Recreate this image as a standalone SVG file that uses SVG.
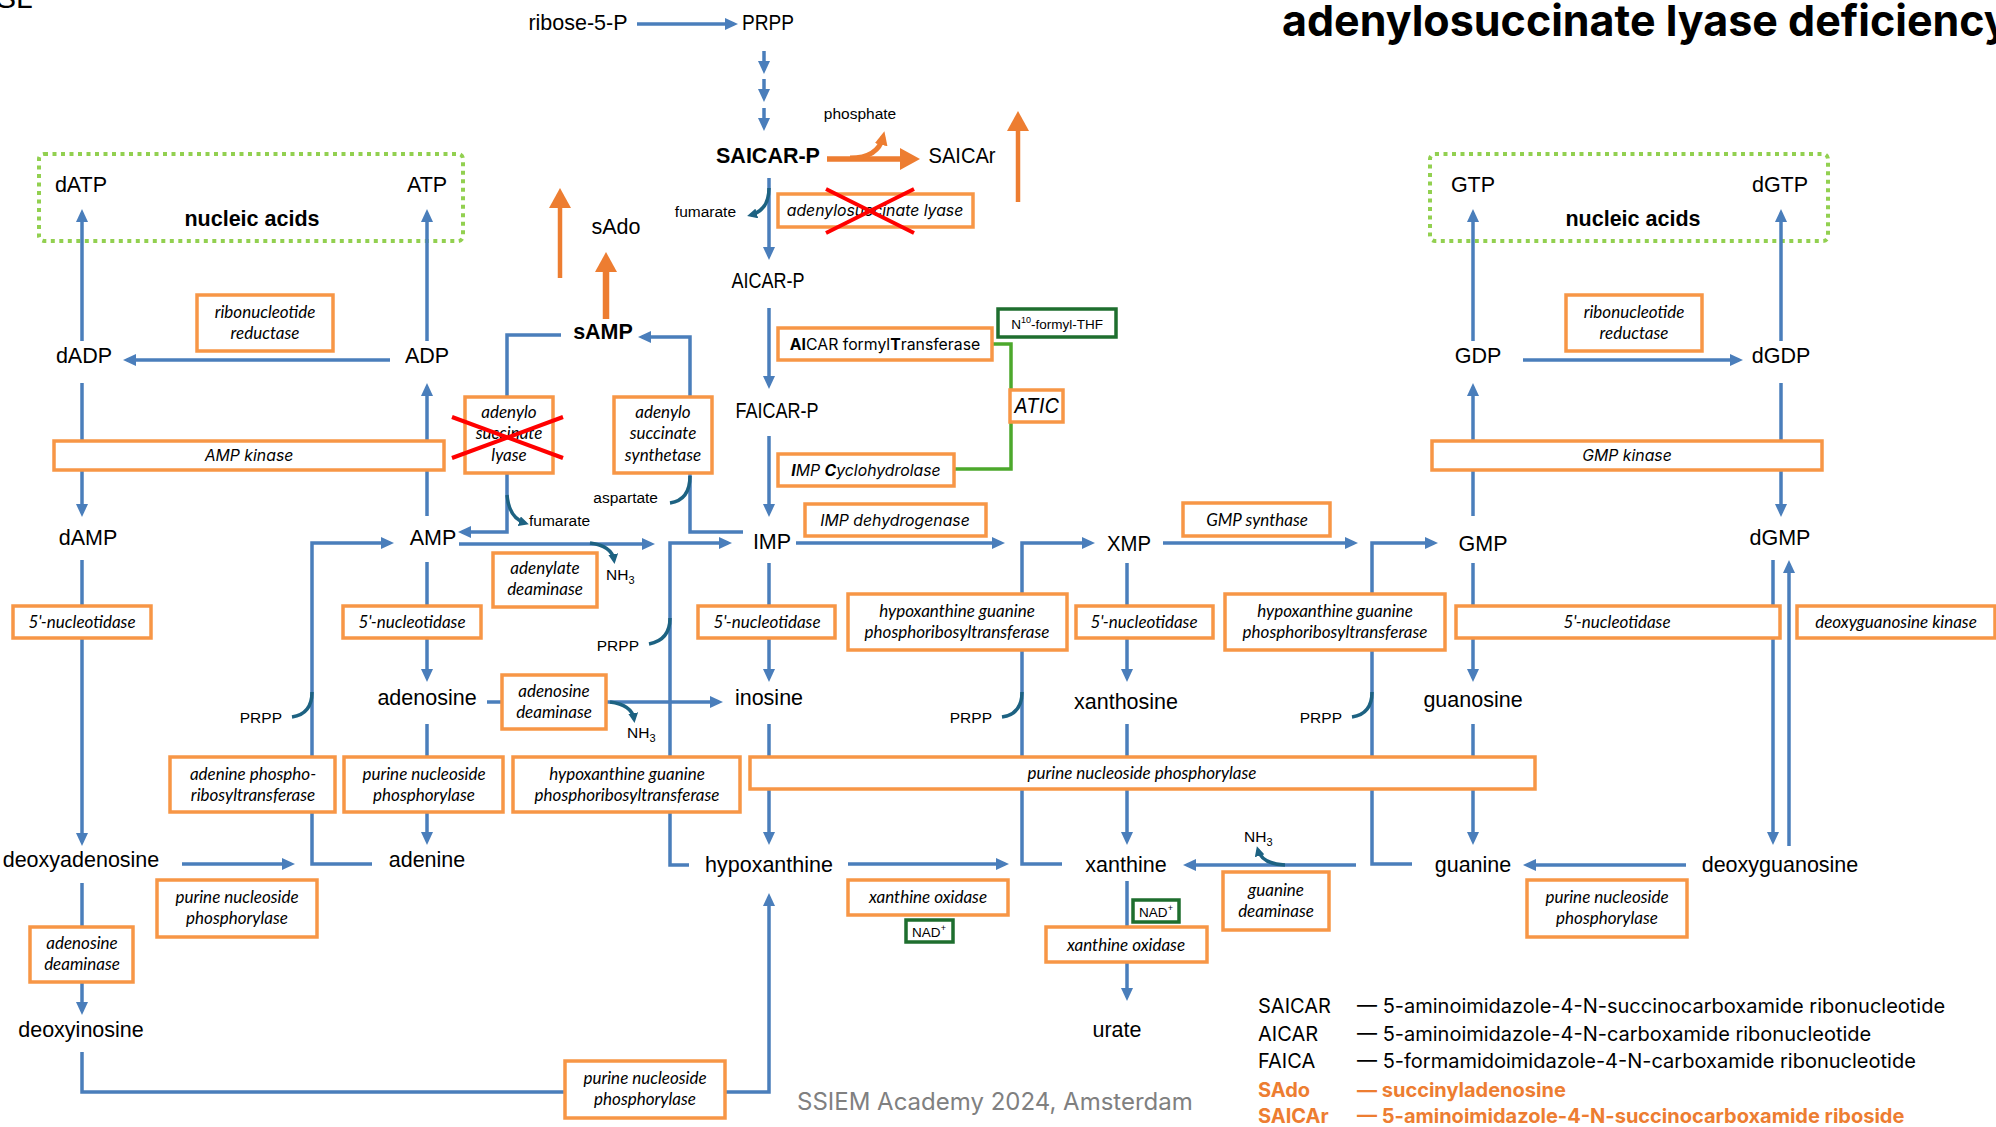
<svg xmlns="http://www.w3.org/2000/svg" width="1996" height="1127" viewBox="0 0 1996 1127">
<style>
.c{fill:none;stroke:#4A7EBB;stroke-width:3.5;marker-end:url(#ab)}
.tl{fill:none;stroke:#1D6282;stroke-width:3.5}
.ta{fill:none;stroke:#1D6282;stroke-width:3.5;marker-end:url(#at)}
.oa{fill:none;stroke:#ED7D31;marker-end:url(#ao)}
.bx{fill:#fff;stroke:#F79646;stroke-width:3.5}
.gb{fill:#fff;stroke:#1E6E2E;stroke-width:3.5}
.lb{font-family:"Liberation Sans",Arial,sans-serif;font-size:21.5px;text-anchor:middle;fill:#000}
.bd{font-weight:bold}
.sm{font-family:"Liberation Sans",Arial,sans-serif;font-size:15.5px;fill:#000}
.ez{font-family:Lato,"Liberation Sans",sans-serif;font-style:italic;font-size:17px;text-anchor:middle;fill:#000}
.ei{font-family:Inter,"Liberation Sans",sans-serif;font-style:italic;font-size:15.8px;text-anchor:middle;fill:#000}
.up{font-style:normal}
.big{font-size:20px}
.gt{font-family:"Liberation Sans",Arial,sans-serif;font-size:13.5px;text-anchor:middle;fill:#000}
.lg{font-family:Inter,"Liberation Sans",sans-serif;font-size:20px;fill:#000}
.lo{fill:#ED7D31;font-weight:bold}
.x{stroke:#FF0000;stroke-width:4}
</style>
<defs>
<marker id="ab" viewBox="0 0 13 12" refX="9" refY="6" markerWidth="13" markerHeight="12" markerUnits="userSpaceOnUse" orient="auto"><path d="M0,0 L13,6 L0,12 z" fill="#4A7EBB"/></marker>
<marker id="at" viewBox="0 0 10 10" refX="6" refY="5" markerWidth="10" markerHeight="10" markerUnits="userSpaceOnUse" orient="auto"><path d="M0,0 L10,5 L0,10 z" fill="#1D6282"/></marker>
<marker id="ao" viewBox="0 0 20 22" refX="13" refY="11" markerWidth="20" markerHeight="22" markerUnits="userSpaceOnUse" orient="auto"><path d="M0,0 L20,11 L0,22 z" fill="#ED7D31"/></marker>
<marker id="ao2" viewBox="0 0 14 13" refX="8" refY="6.5" markerWidth="14" markerHeight="13" markerUnits="userSpaceOnUse" orient="auto"><path d="M0,0 L14,6.5 L0,13 z" fill="#ED7D31"/></marker>
</defs>

<text x="-4" y="8" font-family="Liberation Sans, Arial, sans-serif" font-size="30">SL</text>
<text x="1282" y="36" font-family="Inter, 'Liberation Sans', sans-serif" font-size="43" font-weight="700">adenylosuccinate lyase deficiency</text>

<g id="pools">
<rect x="39" y="154" width="424" height="87" rx="5" fill="none" stroke="#92D050" stroke-width="4" stroke-dasharray="4 4.5"/>
<rect x="1430" y="154" width="398" height="87" rx="5" fill="none" stroke="#92D050" stroke-width="4" stroke-dasharray="4 4.5"/>
</g>

<g id="connectors">
<path class="c" d="M637,24 H734"/>
<path class="c" d="M764,51 V70"/>
<path class="c" d="M764,79 V98"/>
<path class="c" d="M764,108 V127"/>
<path class="c" d="M769,178 V256"/>
<path class="c" d="M769,308 V385"/>
<path class="c" d="M769,436 V513"/>
<path class="c" d="M796,543 H1001"/>
<path class="c" d="M743,532 H690 V337 H642"/>
<path class="c" d="M561,335 H507 V532 H462"/>
<path class="c" d="M459,544 H651"/>
<path class="c" d="M427,516 V387"/>
<path class="c" d="M427,341 V213"/>
<path class="c" d="M390,360 H127"/>
<path class="c" d="M82,341 V213"/>
<path class="c" d="M82,383 V513"/>
<path class="c" d="M82,560 V842"/>
<path class="c" d="M82,883 V1011"/>
<path class="c" d="M82,1052 V1092 H769 V897"/>
<path class="c" d="M427,562 V678"/>
<path class="c" d="M427,724 V841"/>
<path class="c" d="M372,864 H312 V543 H390"/>
<path class="c" d="M182,864 H291"/>
<path class="c" d="M487,702 H719"/>
<path class="c" d="M769,563 V678"/>
<path class="c" d="M769,724 V841"/>
<path class="c" d="M689,865 H670 V543 H728"/>
<path class="c" d="M848,864 H1005"/>
<path class="c" d="M1062,864 H1022 V543 H1091"/>
<path class="c" d="M1127,563 V678"/>
<path class="c" d="M1127,724 V841"/>
<path class="c" d="M1127,881 V997"/>
<path class="c" d="M1163,543 H1354"/>
<path class="c" d="M1412,864 H1372 V543 H1434"/>
<path class="c" d="M1473,516 V387"/>
<path class="c" d="M1473,341 V213"/>
<path class="c" d="M1523,360 H1739"/>
<path class="c" d="M1781,341 V213"/>
<path class="c" d="M1781,383 V513"/>
<path class="c" d="M1773,560 V841"/>
<path class="c" d="M1789,846 V564"/>
<path class="c" d="M1686,865 H1527"/>
<path class="c" d="M1473,563 V678"/>
<path class="c" d="M1473,724 V841"/>
<path class="c" d="M1356,865 H1187"/>
<path class="ta" d="M769,188 Q769,210 751,215"/>
<path class="ta" d="M507,495 Q509,518 525,523"/>
<path class="ta" d="M590,543 Q612,546 614,560"/>
<path class="ta" d="M610,702 Q632,705 634,719"/>
<path class="ta" d="M1285,865 Q1262,864 1258,850"/>
<path class="tl" d="M670,503 Q690,500 690,476"/>
<path class="tl" d="M649,644 Q670,640 670,618"/>
<path class="tl" d="M292,717 Q312,714 312,692"/>
<path class="tl" d="M1002,717 Q1022,714 1022,692"/>
<path class="tl" d="M1352,717 Q1372,714 1372,692"/>
<path d="M992,344 H1011 V469 H954" fill="none" stroke="#4CA82C" stroke-width="3.5"/>
<path class="oa" stroke-width="5.5" d="M827,159 H913"/>
<path d="M850,158 Q878,158 883,137" fill="none" stroke="#ED7D31" stroke-width="5" marker-end="url(#ao2)"/>
<path class="oa" stroke-width="4.5" d="M560,278 V195"/>
<path class="oa" stroke-width="6.5" d="M606,319 V259"/>
<path class="oa" stroke-width="4.5" d="M1018,202 V118"/>
</g>

<g id="metabolites">
<text class="lb" x="81" y="192">dATP</text>
<text class="lb" x="427" y="192">ATP</text>
<text class="lb bd" x="252" y="226">nucleic acids</text>
<text class="lb" x="1473" y="192">GTP</text>
<text class="lb" x="1780" y="192">dGTP</text>
<text class="lb bd" x="1633" y="226">nucleic acids</text>
<text class="lb" x="84" y="363">dADP</text>
<text class="lb" x="427" y="363">ADP</text>
<text class="lb" x="1478" y="363">GDP</text>
<text class="lb" x="1781" y="363">dGDP</text>
<text class="lb" x="578" y="30">ribose-5-P</text>
<text class="lb" x="768" y="30" textLength="52" lengthAdjust="spacingAndGlyphs">PRPP</text>
<text class="lb bd" x="768" y="163">SAICAR-P</text>
<text class="lb" x="962" y="163" textLength="67" lengthAdjust="spacingAndGlyphs">SAICAr</text>
<text class="lb" x="616" y="234">sAdo</text>
<text class="lb bd" x="603" y="339">sAMP</text>
<text class="lb" x="768" y="288" textLength="73" lengthAdjust="spacingAndGlyphs">AICAR-P</text>
<text class="lb" x="777" y="418" textLength="83" lengthAdjust="spacingAndGlyphs">FAICAR-P</text>
<text class="lb" x="88" y="545">dAMP</text>
<text class="lb" x="433" y="545">AMP</text>
<text class="lb" x="772" y="549">IMP</text>
<text class="lb" x="1129" y="551" textLength="44" lengthAdjust="spacingAndGlyphs">XMP</text>
<text class="lb" x="1483" y="551">GMP</text>
<text class="lb" x="1780" y="545">dGMP</text>
<text class="lb" x="427" y="705">adenosine</text>
<text class="lb" x="769" y="705">inosine</text>
<text class="lb" x="1126" y="709">xanthosine</text>
<text class="lb" x="1473" y="707">guanosine</text>
<text class="lb" x="81" y="867">deoxyadenosine</text>
<text class="lb" x="427" y="867">adenine</text>
<text class="lb" x="769" y="872">hypoxanthine</text>
<text class="lb" x="1126" y="872">xanthine</text>
<text class="lb" x="1473" y="872">guanine</text>
<text class="lb" x="1780" y="872">deoxyguanosine</text>
<text class="lb" x="81" y="1037">deoxyinosine</text>
<text class="lb" x="1117" y="1037">urate</text>
</g>

<g id="cofactors">
<text class="sm" x="860" y="119" text-anchor="middle">phosphate</text>
<text class="sm" x="736" y="217" text-anchor="end">fumarate</text>
<text class="sm" x="529" y="526">fumarate</text>
<text class="sm" x="658" y="503" text-anchor="end">aspartate</text>
<text class="sm" x="639" y="651" text-anchor="end">PRPP</text>
<text class="sm" x="282" y="723" text-anchor="end">PRPP</text>
<text class="sm" x="992" y="723" text-anchor="end">PRPP</text>
<text class="sm" x="1342" y="723" text-anchor="end">PRPP</text>
<text class="sm" x="606" y="580">NH<tspan font-size="11" dy="4">3</tspan></text>
<text class="sm" x="627" y="738">NH<tspan font-size="11" dy="4">3</tspan></text>
<text class="sm" x="1244" y="842">NH<tspan font-size="11" dy="4">3</tspan></text>
</g>

<g id="n10-formyl-thf"><rect class="gb" x="998" y="309" width="118" height="28"/><text class="gt" x="1057" y="329">N<tspan font-size="9" dy="-6">10</tspan><tspan dy="6">-formyl-THF</tspan></text></g>
<g id="nad-1"><rect class="gb" x="906" y="920" width="47" height="22"/><text class="gt" x="929" y="937">NAD<tspan font-size="9" dy="-6">+</tspan></text></g>
<g id="nad-2"><rect class="gb" x="1133" y="900" width="46" height="22"/><text class="gt" x="1156" y="917">NAD<tspan font-size="9" dy="-6">+</tspan></text></g>

<g id="enz-rnr-a"><rect class="bx" x="197" y="295" width="136" height="56"/><text class="ez" x="265" y="318">ribonucleotide</text><text class="ez" x="265" y="339">reductase</text></g>
<g id="enz-rnr-g"><rect class="bx" x="1566" y="295" width="136" height="56"/><text class="ez" x="1634" y="318">ribonucleotide</text><text class="ez" x="1634" y="339">reductase</text></g>
<g id="enz-adsl-top"><rect class="bx" x="778" y="194" width="195" height="33"/><text class="ei" x="875" y="216">adenylosuccinate lyase</text>
<line class="x" x1="826" y1="189" x2="914" y2="233"/><line class="x" x1="826" y1="233" x2="914" y2="189"/></g>
<g id="enz-aicar-ft"><rect class="bx" x="778" y="328" width="214" height="32"/><text class="ei up" x="885" y="350"><tspan font-weight="bold">AI</tspan>CAR formyl<tspan font-weight="bold">T</tspan>ransferase</text></g>
<g id="enz-atic"><rect class="bx" x="1010" y="390" width="53" height="32"/><text class="ei big" x="1036.5" y="413">ATIC</text></g>
<g id="enz-imp-ch"><rect class="bx" x="778" y="454" width="176" height="32"/><text class="ei" x="866" y="476"><tspan font-weight="bold">I</tspan>MP <tspan font-weight="bold">C</tspan>yclohydrolase</text></g>
<g id="enz-amp-kinase"><rect class="bx" x="54" y="441" width="390" height="29"/><text class="ei" x="249" y="461">AMP kinase</text></g>
<g id="enz-gmp-kinase"><rect class="bx" x="1432" y="441" width="390" height="29"/><text class="ei" x="1627" y="461">GMP kinase</text></g>
<g id="enz-adsl-amp"><rect class="bx" x="465" y="397" width="88" height="76"/><text class="ez" x="509" y="418">adenylo</text><text class="ez" x="509" y="439">succinate</text><text class="ez" x="509" y="461">lyase</text>
<line class="x" x1="452" y1="417" x2="563" y2="458"/><line class="x" x1="452" y1="458" x2="563" y2="417"/></g>
<g id="enz-adss"><rect class="bx" x="614" y="397" width="98" height="76"/><text class="ez" x="663" y="418">adenylo</text><text class="ez" x="663" y="439">succinate</text><text class="ez" x="663" y="461">synthetase</text></g>
<g id="enz-impdh"><rect class="bx" x="805" y="504" width="181" height="32"/><text class="ei" x="895" y="526">IMP dehydrogenase</text></g>
<g id="enz-gmps"><rect class="bx" x="1183" y="503" width="147" height="33"/><text class="ez" x="1257" y="526">GMP synthase</text></g>
<g id="enz-ampd"><rect class="bx" x="493" y="553" width="104" height="54"/><text class="ez" x="545" y="574">adenylate</text><text class="ez" x="545" y="595">deaminase</text></g>
<g id="enz-5nt-damp"><rect class="bx" x="13" y="606" width="138" height="32"/><text class="ez" x="82" y="628">5'-nucleotidase</text></g>
<g id="enz-5nt-amp"><rect class="bx" x="343" y="606" width="138" height="32"/><text class="ez" x="412" y="628">5'-nucleotidase</text></g>
<g id="enz-5nt-imp"><rect class="bx" x="698" y="606" width="137" height="32"/><text class="ez" x="767" y="628">5'-nucleotidase</text></g>
<g id="enz-hgprt-x"><rect class="bx" x="848" y="594" width="219" height="56"/><text class="ez" x="957" y="617">hypoxanthine guanine</text><text class="ez" x="957" y="638">phosphoribosyltransferase</text></g>
<g id="enz-5nt-xmp"><rect class="bx" x="1076" y="606" width="137" height="32"/><text class="ez" x="1144" y="628">5'-nucleotidase</text></g>
<g id="enz-hgprt-g"><rect class="bx" x="1225" y="594" width="220" height="56"/><text class="ez" x="1335" y="617">hypoxanthine guanine</text><text class="ez" x="1335" y="638">phosphoribosyltransferase</text></g>
<g id="enz-5nt-gmp"><rect class="bx" x="1456" y="606" width="324" height="32"/><text class="ez" x="1617" y="628">5'-nucleotidase</text></g>
<g id="enz-dgk"><rect class="bx" x="1797" y="606" width="198" height="32"/><text class="ez" x="1896" y="628">deoxyguanosine kinase</text></g>
<g id="enz-ada"><rect class="bx" x="502" y="675" width="104" height="54"/><text class="ez" x="554" y="697">adenosine</text><text class="ez" x="554" y="718">deaminase</text></g>
<g id="enz-aprt"><rect class="bx" x="170" y="757" width="165" height="55"/><text class="ez" x="253" y="780">adenine phospho-</text><text class="ez" x="253" y="801">ribosyltransferase</text></g>
<g id="enz-pnp-ado"><rect class="bx" x="344" y="757" width="159" height="55"/><text class="ez" x="424" y="780">purine nucleoside</text><text class="ez" x="424" y="801">phosphorylase</text></g>
<g id="enz-hgprt-h"><rect class="bx" x="513" y="757" width="227" height="55"/><text class="ez" x="627" y="780">hypoxanthine guanine</text><text class="ez" x="627" y="801">phosphoribosyltransferase</text></g>
<g id="enz-pnp-wide"><rect class="bx" x="750" y="757" width="785" height="32"/><text class="ez" x="1142" y="779">purine nucleoside phosphorylase</text></g>
<g id="enz-pnp-dado"><rect class="bx" x="157" y="880" width="160" height="57"/><text class="ez" x="237" y="903">purine nucleoside</text><text class="ez" x="237" y="924">phosphorylase</text></g>
<g id="enz-ada-d"><rect class="bx" x="30" y="927" width="103" height="55"/><text class="ez" x="82" y="949">adenosine</text><text class="ez" x="82" y="970">deaminase</text></g>
<g id="enz-xo-1"><rect class="bx" x="848" y="880" width="160" height="35"/><text class="ez" x="928" y="903">xanthine oxidase</text></g>
<g id="enz-gda"><rect class="bx" x="1223" y="872" width="106" height="58"/><text class="ez" x="1276" y="896">guanine</text><text class="ez" x="1276" y="917">deaminase</text></g>
<g id="enz-xo-2"><rect class="bx" x="1046" y="927" width="161" height="35"/><text class="ez" x="1126" y="951">xanthine oxidase</text></g>
<g id="enz-pnp-dguo"><rect class="bx" x="1527" y="880" width="160" height="57"/><text class="ez" x="1607" y="903">purine nucleoside</text><text class="ez" x="1607" y="924">phosphorylase</text></g>
<g id="enz-pnp-dino"><rect class="bx" x="565" y="1061" width="160" height="57"/><text class="ez" x="645" y="1084">purine nucleoside</text><text class="ez" x="645" y="1105">phosphorylase</text></g>

<g id="legend">
<text class="lg" x="1258" y="1013">SAICAR</text><text class="lg" x="1357" y="1013">— 5-aminoimidazole-4-N-succinocarboxamide ribonucleotide</text>
<text class="lg" x="1258" y="1041">AICAR</text><text class="lg" x="1357" y="1041">— 5-aminoimidazole-4-N-carboxamide ribonucleotide</text>
<text class="lg" x="1258" y="1068">FAICA</text><text class="lg" x="1357" y="1068">— 5-formamidoimidazole-4-N-carboxamide ribonucleotide</text>
<text class="lg lo" x="1258" y="1097">SAdo</text><text class="lg lo" x="1357" y="1097">— succinyladenosine</text>
<text class="lg lo" x="1258" y="1123">SAICAr</text><text class="lg lo" x="1357" y="1123">— 5-aminoimidazole-4-N-succinocarboxamide riboside</text>
</g>
<text x="797" y="1110" font-family="Inter, 'Liberation Sans', sans-serif" font-size="24" fill="#808080">SSIEM Academy 2024, Amsterdam</text>
</svg>
